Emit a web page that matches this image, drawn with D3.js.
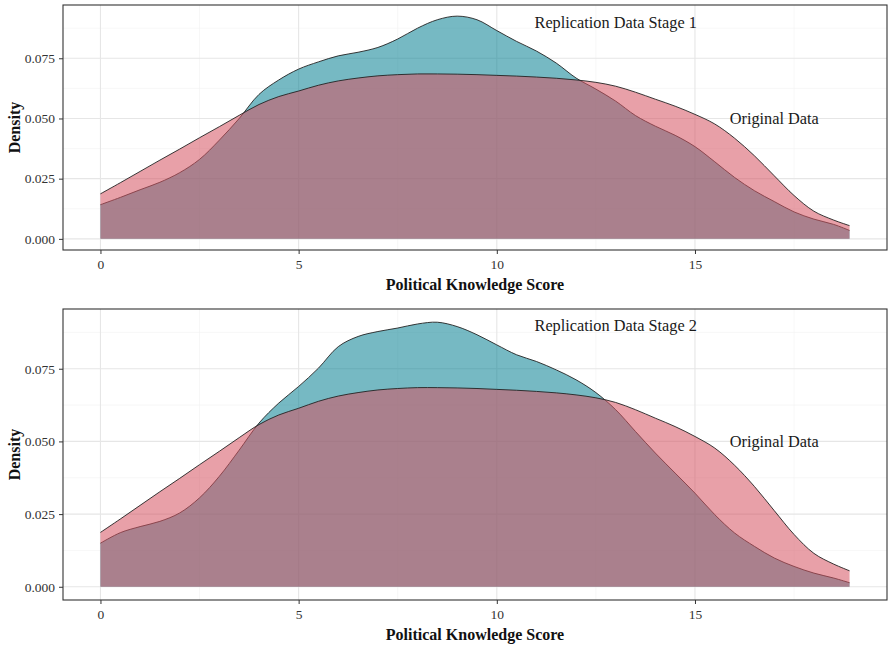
<!DOCTYPE html>
<html><head><meta charset="utf-8">
<script src="https://cdn.jsdelivr.net/npm/d3@7"></script>
<style>body{margin:0;background:#fff}svg{display:block}</style>
</head><body>
<svg id="chart" width="889" height="647"></svg>
<script>
const xs = [0,0.5,1,1.5,2,2.5,3,3.5,4,4.5,5,5.5,6,6.5,7,7.5,8,8.5,9,9.5,10,10.5,11,11.5,12,12.5,13,13.5,14,14.5,15,15.5,16,16.5,17,17.5,18,18.5,18.9];
const original = [0.0187,0.0233,0.0280,0.0327,0.0373,0.0420,0.0466,0.0513,0.0558,0.0591,0.0614,0.0638,0.0656,0.0668,0.0677,0.0682,0.0685,0.0685,0.0684,0.0682,0.0679,0.0676,0.0672,0.0667,0.0660,0.0650,0.0634,0.0609,0.0580,0.0551,0.0517,0.0477,0.0418,0.0345,0.0262,0.0180,0.0115,0.0078,0.0055];
const stage1 = [0.0142,0.0172,0.0204,0.0235,0.0275,0.0330,0.0410,0.0500,0.0600,0.0660,0.0705,0.0735,0.0760,0.0775,0.0795,0.0830,0.0875,0.0910,0.0925,0.0910,0.0865,0.0820,0.0780,0.0730,0.0668,0.0622,0.0572,0.0512,0.0468,0.0430,0.0383,0.0320,0.0255,0.0200,0.0155,0.0112,0.0082,0.0060,0.0035];
const stage2 = [0.0150,0.0186,0.0207,0.0225,0.0254,0.0306,0.0380,0.0470,0.0563,0.0632,0.0689,0.0752,0.0826,0.0861,0.0878,0.0890,0.0904,0.0910,0.0895,0.0867,0.0832,0.0798,0.0775,0.0746,0.0712,0.0668,0.0609,0.0534,0.0460,0.0391,0.0322,0.0248,0.0185,0.0139,0.0099,0.0070,0.0047,0.0030,0.0014];
const xTicks = [0,5,10,15];
const xMinor = [2.5,7.5,12.5,17.5];
const yTicks = [0,0.025,0.05,0.075];
const yMinor = [0.0125,0.0375,0.0625,0.0875];
const panels = [
  {repl: stage1, label: "Replication Data Stage 1", top: 5, bottom: 250},
  {repl: stage2, label: "Replication Data Stage 2", top: 309, bottom: 600}
];
const labelOrig = "Original Data";
const xTitle = "Political Knowledge Score";
const yTitle = "Density";

const svg = d3.select("#chart");
const left = 63, right = 887;
const font = "'Liberation Serif','Times New Roman',serif";
const xmin = d3.min(xs), xmax = d3.max(xs), xpad = (xmax - xmin) * 0.05;
const x = d3.scaleLinear().domain([xmin - xpad, xmax + xpad]).range([left, right]);

panels.forEach(p => {
  const M = d3.max([...original, ...p.repl]);
  const y = d3.scaleLinear().domain([-0.05 * M, 1.05 * M]).range([p.bottom, p.top]);
  const g = svg.append("g");
  // minor grid
  g.selectAll(".vmin").data(xMinor).join("line")
    .attr("x1", d => x(d)).attr("x2", d => x(d)).attr("y1", p.top).attr("y2", p.bottom)
    .attr("stroke", "#f2f2f2").attr("stroke-width", 0.6);
  g.selectAll(".hmin").data(yMinor).join("line")
    .attr("y1", d => y(d)).attr("y2", d => y(d)).attr("x1", left).attr("x2", right)
    .attr("stroke", "#f2f2f2").attr("stroke-width", 0.6);
  // major grid
  g.selectAll(".vmaj").data(xTicks).join("line")
    .attr("x1", d => x(d)).attr("x2", d => x(d)).attr("y1", p.top).attr("y2", p.bottom)
    .attr("stroke", "#e6e6e6").attr("stroke-width", 1.1);
  g.selectAll(".hmaj").data(yTicks).join("line")
    .attr("y1", d => y(d)).attr("y2", d => y(d)).attr("x1", left).attr("x2", right)
    .attr("stroke", "#e6e6e6").attr("stroke-width", 1.1);

  const curve = d3.curveCatmullRom.alpha(0.5);
  const area = vals => d3.area().x((d, i) => x(xs[i])).y0(y(0)).y1(d => y(d)).curve(curve)(vals);
  const line = vals => d3.line().x((d, i) => x(xs[i])).y(d => y(d)).curve(curve)(vals);

  g.append("path").attr("d", area(p.repl)).attr("fill", "rgb(6,128,146)").attr("fill-opacity", 0.55);
  g.append("path").attr("d", line(p.repl)).attr("fill", "none").attr("stroke", "#222").attr("stroke-width", 0.9);
  g.append("path").attr("d", area(original)).attr("fill", "rgb(213,82,97)").attr("fill-opacity", 0.55);
  g.append("path").attr("d", line(original)).attr("fill", "none").attr("stroke", "#222").attr("stroke-width", 0.9);

  // border
  g.append("rect").attr("x", left).attr("y", p.top).attr("width", right - left).attr("height", p.bottom - p.top)
    .attr("fill", "none").attr("stroke", "#333").attr("stroke-width", 1.1);

  // axes
  const xa = g.append("g").attr("transform", `translate(0,${p.bottom})`)
    .call(d3.axisBottom(x).tickValues(xTicks).tickSize(4).tickPadding(5).tickFormat(d3.format("d")));
  const ya = g.append("g").attr("transform", `translate(${left},0)`)
    .call(d3.axisLeft(y).tickValues(yTicks).tickSize(4).tickPadding(4).tickFormat(d3.format(".3f")));
  [xa, ya].forEach(a => {
    a.select(".domain").remove();
    a.selectAll(".tick line").attr("stroke", "#333");
    a.selectAll(".tick text").attr("fill", "#333").style("font-family", font).style("font-size", "13.5px");
  });

  // annotations
  g.append("text").attr("x", x(13)).attr("y", y(0.09)).attr("dy", "0.35em").attr("text-anchor", "middle")
    .style("font-family", font).style("font-size", "16.3px").attr("fill", "#1a1a1a").text(p.label);
  g.append("text").attr("x", x(17)).attr("y", y(0.05)).attr("dy", "0.35em").attr("text-anchor", "middle")
    .style("font-family", font).style("font-size", "16.3px").attr("fill", "#1a1a1a").text(labelOrig);

  // titles
  g.append("text").attr("x", (left + right) / 2).attr("y", p.bottom + 40).attr("text-anchor", "middle")
    .style("font-family", font).style("font-size", "16px").style("font-weight", "bold").attr("fill", "#111").text(xTitle);
  g.append("text").attr("transform", `translate(20,${(p.top + p.bottom) / 2}) rotate(-90)`).attr("text-anchor", "middle")
    .style("font-family", font).style("font-size", "16px").style("font-weight", "bold").attr("fill", "#111").text(yTitle);
});
</script>
</body></html>
